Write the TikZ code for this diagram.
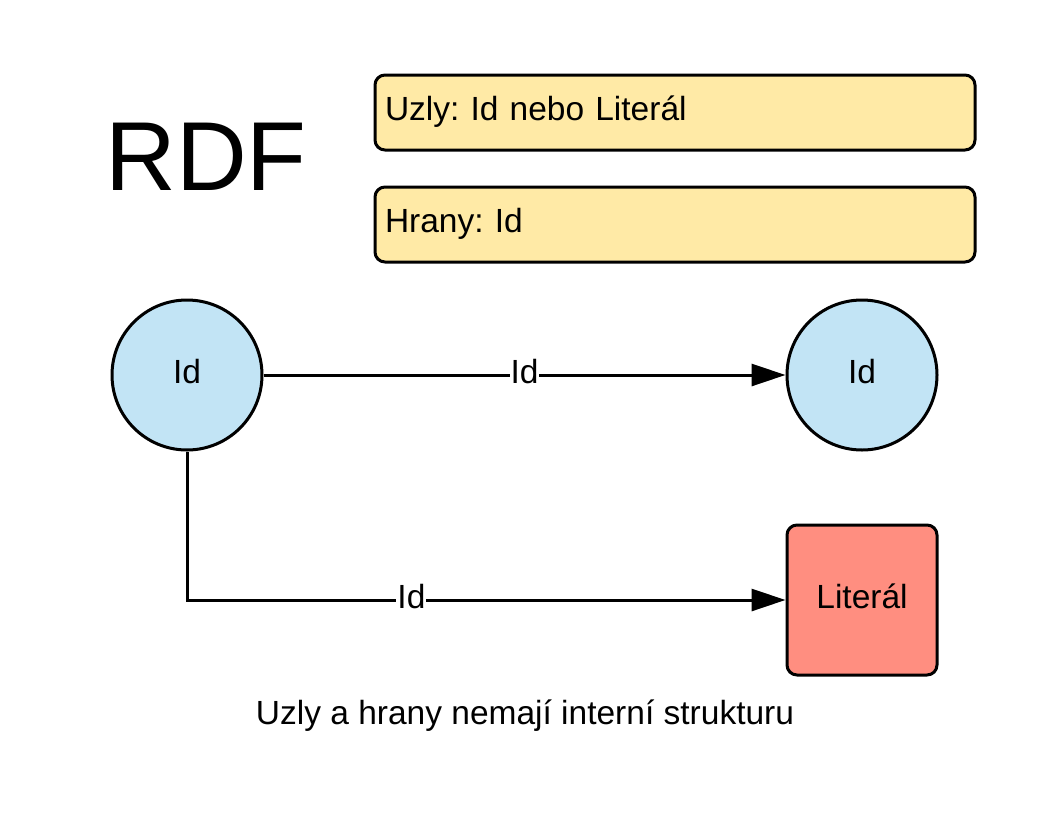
\documentclass[tikz,border=0pt]{standalone}
\usepackage{fontspec}
\setmainfont{Liberation Sans}
\usetikzlibrary{arrows.meta}
\definecolor{boxyellow}{HTML}{FFEAA6}
\definecolor{nodeblue}{HTML}{C2E4F5}
\definecolor{litred}{HTML}{FF8E80}
\frenchspacing
\begin{document}
\frenchspacing
\begin{tikzpicture}[x=1pt,y=-1pt,
  txt/.style={font=\fontsize{33.5}{40}\selectfont\frenchspacing, text height=24pt, text depth=8pt},
  infobox/.style={draw=black, line width=3pt, fill=boxyellow, rounded corners=10pt,
    minimum width=600pt, minimum height=75pt, text width=580pt, align=left,
    inner xsep=10pt, inner ysep=0pt, txt},
  idnode/.style={circle, draw=black, line width=3pt, fill=nodeblue, minimum size=150pt, inner sep=0pt, txt},
  litnode/.style={draw=black, line width=3pt, fill=litred, rounded corners=10pt, minimum size=150pt, inner sep=0pt, txt},
  edge/.style={line width=3pt, -{Triangle[length=34pt,width=22pt]}},
  elabel/.style={fill=white, inner sep=1pt, txt}]
\useasboundingbox (0,0) rectangle (1050,825);
\node[font=\fontsize{98}{110}\selectfont] (title) at (206,157) {RDF};
\node[infobox] (b1) at (675,112.5) {Uzly: Id nebo Literál};
\node[infobox] (b2) at (675,224.5) {Hrany: Id};
\node[idnode] (n1) at (187,375) {Id};
\node[idnode] (n2) at (862,375) {Id};
\node[litnode] (lit) at (862,600) {Literál};
\draw[edge] (n1) -- node[elabel] {Id} (n2);
\draw[edge] (n1.south) |- node[elabel, pos=0.6875] {Id} (lit.west);
\node[txt] (caption) at (525,716) {Uzly a hrany nemají interní strukturu};
\end{tikzpicture}
\end{document}
